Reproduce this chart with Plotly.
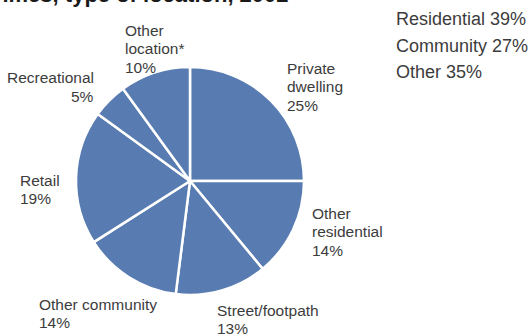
import plotly.graph_objects as go

# Share of incidents by type of location, 2002 (%)
locations = ["Private dwelling", "Other residential", "Street/footpath",
             "Other community", "Retail", "Recreational", "Other location*"]
shares = [25, 14, 13, 14, 19, 5, 10]

# Group totals shown at the right
groups = ["Residential", "Community", "Other"]
group_shares = [39, 27, 35]

# Label layout: wrapped lines, anchor pixel (x, y of first line), alignment
label_lines = [["Private", "dwelling"], ["Other", "residential"], ["Street/footpath"],
               ["Other community"], ["Retail"], ["Recreational"], ["Other", "location*"]]
label_pos = [(285, 68, "left"), (310, 213, "left"), (215, 310, "left"),
             (37, 304, "left"), (18, 180, "left"), (96, 78, "right"), (123, 30, "left")]

W, H = 531, 334
TEXT = "#3c3c3c"
BLUE = "#587cb1"
LINE_GAP = 18.6

cx, cy, r = 190, 181, 114

fig = go.Figure(go.Pie(
    labels=locations,
    values=shares,
    sort=False,
    direction="clockwise",
    rotation=0,
    marker=dict(colors=[BLUE] * len(shares), line=dict(color="white", width=2.5)),
    textinfo="none",
    hoverinfo="label+percent",
    showlegend=False,
    domain=dict(x=[(cx - r) / W, (cx + r) / W],
                y=[(H - cy - r) / H, (H - cy + r) / H]),
))

annotations = []
for lines, val, (px, py, align) in zip(label_lines, shares, label_pos):
    for i, line in enumerate(lines + [f"{val}%"]):
        annotations.append(dict(
            x=px / W, y=(H - (py + i * LINE_GAP)) / H,
            xref="paper", yref="paper",
            xanchor=align, yanchor="middle",
            text=line, showarrow=False,
            font=dict(size=15.5, color=TEXT, family="Liberation Sans, Arial, sans-serif"),
        ))

for i, (g, v) in enumerate(zip(groups, group_shares)):
    annotations.append(dict(
        x=394 / W, y=(H - (19 + i * 26.5)) / H,
        xref="paper", yref="paper",
        xanchor="left", yanchor="middle",
        text=f"{g} {v}%", showarrow=False,
        font=dict(size=18, color=TEXT, family="Liberation Sans, Arial, sans-serif"),
    ))

# Chart heading, running off the top edge of the page
annotations.append(dict(
    x=291 / W, y=(H - 9) / H,
    xref="paper", yref="paper",
    xanchor="right", yanchor="bottom",
    text="<b>Crimes, type of location, 2002</b>", showarrow=False,
    font=dict(size=22, color="#1a1a1a", family="Liberation Sans, Arial, sans-serif"),
))

fig.update_layout(
    width=W, height=H,
    margin=dict(l=0, r=0, t=0, b=0),
    paper_bgcolor="white",
    plot_bgcolor="white",
    annotations=annotations,
)

fig.write_html("out.html")
